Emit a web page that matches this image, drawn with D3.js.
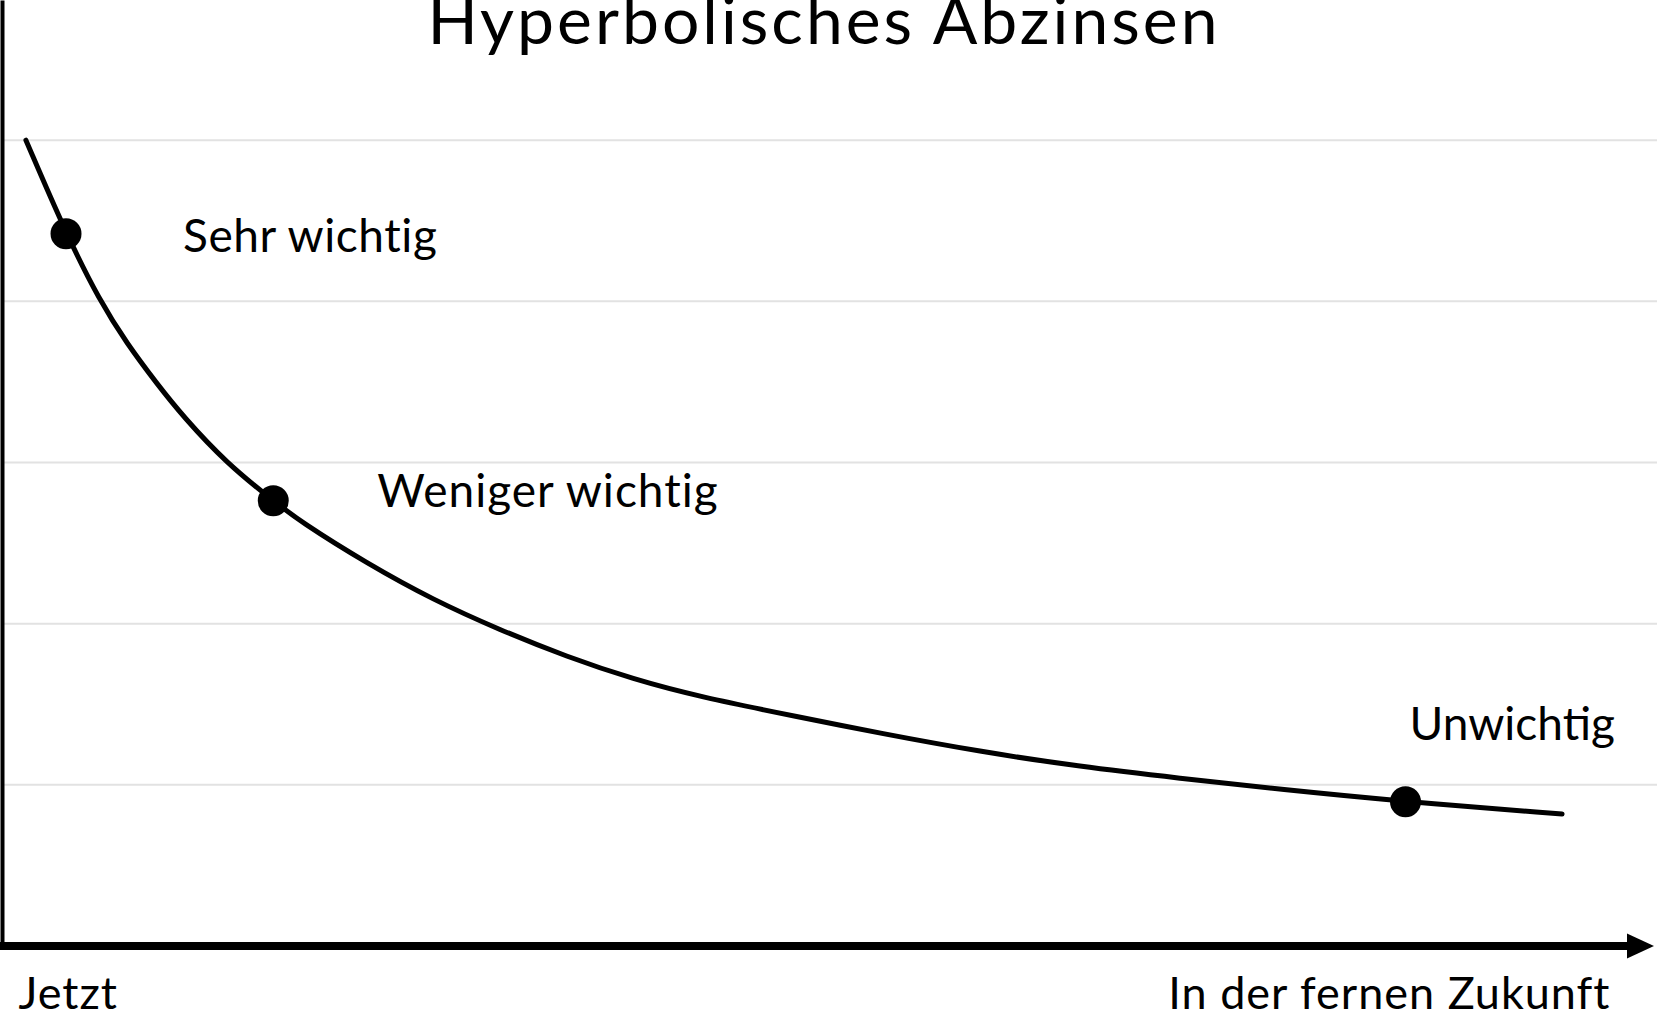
<!DOCTYPE html>
<html>
<head>
<meta charset="utf-8">
<script src="https://cdn.jsdelivr.net/npm/d3@7"></script>
<style>
	body { margin: 0; background: #fff; }
	svg { display: block; font-family: Lato, "Open Sans", sans-serif; }
</style>
</head>
<body>
<svg id="chart"></svg>
<script>
// Chart dimensions
const width = 1657;
const height = 1019;

// Data (time 0..100, importance 0..5)
const curveTime = [1.45, 3.88, 5.94, 7.56, 9.38, 10.99, 13.62, 16.44, 18.06, 22.1, 26.14, 30.18, 34.22, 38.26, 42.3, 48.36, 53.21, 59.27, 65.33, 71.39, 77.45, 85.06, 94.55];
const curveValue = [5.0, 4.42, 4.0, 3.74, 3.49, 3.284, 2.995, 2.763, 2.635, 2.375, 2.147, 1.961, 1.795, 1.655, 1.545, 1.42, 1.32, 1.206, 1.113, 1.041, 0.972, 0.895, 0.819];

const pointTime = [3.88, 16.44, 85.06];
const pointValue = [4.42, 2.763, 0.895];
const pointLabels = ["Sehr wichtig", "Weniger wichtig", "Unwichtig"];

const gridValues = [1, 2, 3, 4, 5];
const xTickValues = [0, 100];
const xTickLabels = ["Jetzt", "In der fernen Zukunft"];
const title = "Hyperbolisches Abzinsen";

// label placement relative to its dot
const labelOffsets = [[117, 18], [104, 6], [4, -62]];
const labelSpacing = [0.6, 1, 0];

const svg = d3.select("#chart")
	.attr("width", width)
	.attr("height", height);

svg.append("rect")
	.attr("width", width)
	.attr("height", height)
	.attr("fill", "#fff");

// Scales
const xScale = d3.scaleLinear().domain([0, 100]).range([2, 1652]);
const yScale = d3.scaleLinear().domain([0, 5.87]).range([946, 0]);

// Gridlines
svg.append("g")
	.selectAll("line")
	.data(gridValues)
	.join("line")
	.attr("x1", xScale(0))
	.attr("x2", width)
	.attr("y1", (d) => yScale(d))
	.attr("y2", (d) => yScale(d))
	.attr("stroke", "#e2e2e2")
	.attr("stroke-width", 2);

// Y axis (plain line)
const yAxis = svg.append("g")
	.attr("transform", `translate(${xScale(0)}, 0)`)
	.call(d3.axisLeft(yScale).tickValues([]).tickSizeOuter(0));
yAxis.select(".domain")
	.attr("stroke", "#000")
	.attr("stroke-width", 4);

// X axis with arrow
const xAxis = svg.append("g")
	.attr("transform", `translate(0, ${yScale(0)})`)
	.call(d3.axisBottom(xScale)
		.tickValues(xTickValues)
		.tickSize(0)
		.tickSizeOuter(0)
		.tickFormat((d, i) => xTickLabels[i]));

const [ax0, ax1] = xScale.range();
xAxis.select(".domain")
	.attr("d", `M${ax0 - 2},0H${ax1 - 20}`)
	.attr("stroke", "#000")
	.attr("stroke-width", 8);

xAxis.append("path")
	.attr("d", `M${ax1 - 25},-12.5L${ax1 + 2},0L${ax1 - 25},12.5Z`)
	.attr("fill", "#000");

xAxis.selectAll(".tick text")
	.attr("fill", "#000")
	.attr("font-family", "Lato, sans-serif")
	.attr("font-size", 45)
	.attr("letter-spacing", 1)
	.attr("y", 0)
	.attr("dy", 63)
	.attr("text-anchor", (d, i) => (i === 0 ? "start" : "end"))
	.attr("dx", (d, i) => (i === 0 ? 16 : -42));

// Curve
const line = d3.line()
	.x((d, i) => xScale(curveTime[i]))
	.y((d) => yScale(d))
	.curve(d3.curveBasis);

svg.append("path")
	.datum(curveValue)
	.attr("d", line)
	.attr("fill", "none")
	.attr("stroke", "#000")
	.attr("stroke-width", 5)
	.attr("stroke-linecap", "round");

// Dots
svg.append("g")
	.selectAll("circle")
	.data(pointValue)
	.join("circle")
	.attr("cx", (d, i) => xScale(pointTime[i]))
	.attr("cy", (d) => yScale(d))
	.attr("r", 15.5)
	.attr("fill", "#000");

// Dot labels
svg.append("g")
	.selectAll("text")
	.data(pointLabels)
	.join("text")
	.attr("x", (d, i) => xScale(pointTime[i]) + labelOffsets[i][0])
	.attr("y", (d, i) => yScale(pointValue[i]) + labelOffsets[i][1])
	.attr("font-size", 46)
	.attr("letter-spacing", (d, i) => labelSpacing[i])
	.attr("fill", "#000")
	.text((d) => d);

// Title
svg.append("text")
	.attr("x", 824)
	.attr("y", 44)
	.attr("text-anchor", "middle")
	.attr("font-size", 66)
	.attr("letter-spacing", 3)
	.attr("fill", "#000")
	.text(title);
</script>
</body>
</html>
